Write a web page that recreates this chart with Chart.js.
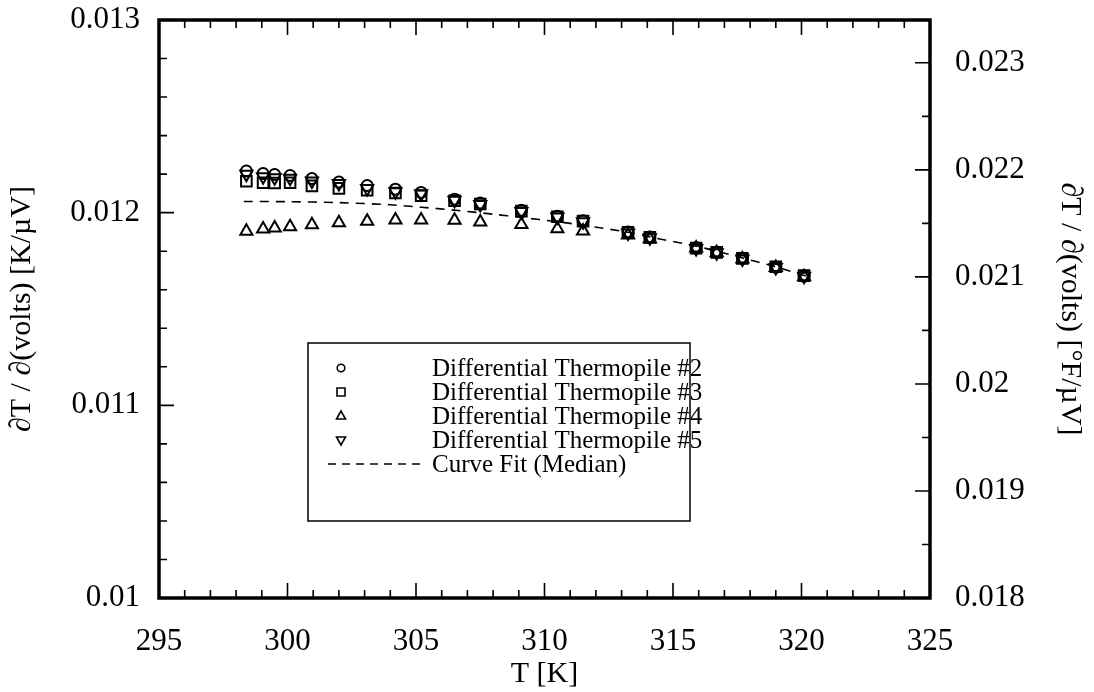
<!DOCTYPE html>
<html><head><meta charset="utf-8">
<script src="https://cdn.jsdelivr.net/npm/chart.js@4.4.1/dist/chart.umd.min.js"></script>
<style>html,body{margin:0;padding:0;background:#fff;overflow:hidden;}#wrap{width:1094px;height:692px;}</style>
</head><body><div id="wrap"><canvas id="c" width="1094" height="692"></canvas></div>
<script>
// ---- data ----
const temps = [298.4, 299.05, 299.5, 300.1, 300.95, 302.0, 303.1, 304.2, 305.2, 306.5, 307.5, 309.1, 310.5, 311.5, 313.25, 314.1, 315.9, 316.7, 317.7, 319.0, 320.1];
const tp2 = [0.012216, 0.012203, 0.012198, 0.012193, 0.012177, 0.012159, 0.012141, 0.012122, 0.012105, 0.012070, 0.012050, 0.012012, 0.011982, 0.011958, 0.011900, 0.011874, 0.011818, 0.011796, 0.011764, 0.011717, 0.011671];
const tp3 = [0.012163, 0.012155, 0.012154, 0.012155, 0.012139, 0.012126, 0.012116, 0.012102, 0.012088, 0.012062, 0.012045, 0.012008, 0.011979, 0.011956, 0.011898, 0.011872, 0.011816, 0.011794, 0.011763, 0.011719, 0.011673];
const tp4 = [0.011903, 0.011915, 0.011920, 0.011927, 0.011937, 0.011948, 0.011956, 0.011962, 0.011962, 0.011960, 0.011951, 0.011939, 0.011916, 0.011905, 0.011884, 0.011863, 0.011816, 0.011792, 0.011760, 0.011716, 0.011668];
const tp5 = [0.012200, 0.012186, 0.012181, 0.012179, 0.012165, 0.012152, 0.012126, 0.012108, 0.012098, 0.012064, 0.012043, 0.012006, 0.011977, 0.011953, 0.011895, 0.011870, 0.011814, 0.011792, 0.011760, 0.011715, 0.011670];
const fitT = [298.3, 300, 302, 304, 305.2, 306.5, 308, 309.1, 310.5, 311.5, 313.25, 314.1, 315.9, 316.7, 317.7, 319.0, 320.2];
const fitV = [0.012058, 0.012057, 0.012052, 0.012041, 0.012028, 0.012013, 0.011992, 0.011975, 0.011953, 0.011935, 0.011898, 0.011874, 0.011826, 0.011800, 0.011765, 0.011719, 0.011670];

const seriesNames = ['Differential Thermopile #2', 'Differential Thermopile #3', 'Differential Thermopile #4', 'Differential Thermopile #5', 'Curve Fit (Median)'];

const xTickValues = [295, 300, 305, 310, 315, 320, 325];
const xTickLabels = ['295', '300', '305', '310', '315', '320', '325'];
const yTickValues = [0.010, 0.011, 0.012, 0.013];
const yTickLabels = ['0.01', '0.011', '0.012', '0.013'];
const y2TickValues = [0.018, 0.019, 0.020, 0.021, 0.022, 0.023];
const y2TickLabels = ['0.018', '0.019', '0.02', '0.021', '0.022', '0.023'];

// ---- chart ----
const FONT = "'Liberation Serif', 'Times New Roman', serif";
const pts = (ys) => temps.map((t, i) => ({x: t, y: ys[i]}));

const frameTicks = {
  id: 'frameTicks',
  afterDatasetsDraw(chart) {
    const {ctx, chartArea: a, scales} = chart;
    ctx.save();
    ctx.strokeStyle = '#000';
    ctx.lineWidth = 1.6;
    const MAJ = 15, MIN = 8;
    const xs = scales.x, ys = scales.y, y2 = scales.y2;
    ctx.beginPath();
    for (let v = 295; v <= 325 + 1e-9; v += 1) {
      const px = xs.getPixelForValue(v);
      const L = (Math.round(v) % 5 === 0) ? MAJ : MIN;
      ctx.moveTo(px, a.bottom); ctx.lineTo(px, a.bottom - L);
      ctx.moveTo(px, a.top); ctx.lineTo(px, a.top + L);
    }
    for (let k = 0; k <= 15; k++) {
      const v = 0.010 + k * 0.0002;
      const py = ys.getPixelForValue(v);
      const L = (k % 5 === 0) ? MAJ : MIN;
      ctx.moveTo(a.left, py); ctx.lineTo(a.left + L, py);
    }
    for (let k = 0; k <= 10; k++) {
      const v = 0.018 + k * 0.0005;
      const py = y2.getPixelForValue(v);
      const L = (k % 2 === 0) ? MAJ : MIN;
      ctx.moveTo(a.right, py); ctx.lineTo(a.right - L, py);
    }
    ctx.stroke();
    ctx.lineWidth = 3.5;
    ctx.strokeRect(a.left, a.top, a.right - a.left, a.bottom - a.top);

    // legend box
    const bx = 308, by = 343, bw = 382, bh = 178;
    ctx.lineWidth = 1.5;
    ctx.strokeRect(bx, by, bw, bh);
    ctx.font = '25px ' + FONT;
    ctx.fillStyle = '#000';
    ctx.textBaseline = 'middle';
    ctx.textAlign = 'left';
    const mx = 341, tx = 432;
    for (let i = 0; i < 5; i++) {
      const yy = 368 + 24 * i;
      ctx.fillText(seriesNames[i], tx, yy + 1);
      ctx.beginPath();
      ctx.lineWidth = 1.6;
      if (i === 0) { ctx.arc(mx, yy, 3.8, 0, Math.PI * 2); }
      else if (i === 1) { ctx.rect(mx - 4, yy - 4, 8, 8); }
      else if (i === 2) { ctx.moveTo(mx, yy - 5); ctx.lineTo(mx + 4.5, yy + 3); ctx.lineTo(mx - 4.5, yy + 3); ctx.closePath(); }
      else if (i === 3) { ctx.moveTo(mx, yy + 5); ctx.lineTo(mx + 4.5, yy - 3); ctx.lineTo(mx - 4.5, yy - 3); ctx.closePath(); }
      else { ctx.setLineDash([8, 6]); ctx.moveTo(328, yy); ctx.lineTo(426, yy); }
      ctx.stroke();
      ctx.setLineDash([]);
    }
    ctx.restore();
  }
};

const noPadV = s => { s.paddingTop = 0; s.paddingBottom = 0; };
const common = {borderColor: '#000', backgroundColor: 'rgba(0,0,0,0)', borderWidth: 2, showLine: false};
new Chart(document.getElementById('c'), {
  type: 'scatter',
  data: {
    datasets: [
      Object.assign({label: seriesNames[0], data: pts(tp2), pointStyle: 'circle', pointRadius: 5.5}, common),
      Object.assign({label: seriesNames[1], data: pts(tp3), pointStyle: 'rect', pointRadius: 7.5}, common),
      Object.assign({label: seriesNames[2], data: pts(tp4), pointStyle: 'triangle', pointRadius: 7}, common),
      Object.assign({label: seriesNames[3], data: pts(tp5), pointStyle: 'triangle', pointRotation: 180, pointRadius: 7}, common),
      {label: seriesNames[4], data: fitT.map((t, i) => ({x: t, y: fitV[i]})), showLine: true, pointRadius: 0,
       borderColor: '#000', borderWidth: 1.6, borderDash: [9, 7], tension: 0.3, fill: false}
    ]
  },
  options: {
    responsive: false, animation: false, devicePixelRatio: 1,
    layout: {padding: {top: 20, left: 0, right: 0, bottom: 0}},
    plugins: {legend: {display: false}, tooltip: {enabled: false}},
    scales: {
      x: {
        type: 'linear', position: 'bottom', min: 295, max: 325,
        grid: {display: false, drawTicks: false, tickLength: 0}, border: {display: false},
        afterBuildTicks: s => { s.ticks = xTickValues.map(v => ({value: v})); },
        afterFit: s => { s.height = 94; s.paddingLeft = 0; s.paddingRight = 0; },
        ticks: {color: '#000', font: {family: FONT, size: 31}, padding: 25, maxRotation: 0,
                callback: (v, i) => xTickLabels[i]},
        title: {display: true, text: 'T [K]', color: '#000', font: {family: FONT, size: 30}, padding: {top: 0, bottom: 0}}
      },
      y: {
        type: 'linear', position: 'left', min: 0.010, max: 0.013,
        grid: {display: false, drawTicks: false, tickLength: 0}, border: {display: false},
        afterBuildTicks: s => { s.ticks = yTickValues.map(v => ({value: v})); },
        afterFit: s => { s.width = 159; noPadV(s); },
        ticks: {color: '#000', font: {family: FONT, size: 31}, padding: 19,
                callback: (v, i) => yTickLabels[i]},
        title: {display: true, text: '\u2202T / \u2202(volts) [K/\u00B5V]', color: '#000', font: {family: FONT, size: 30}, padding: {top: 4, bottom: 0}}
      },
      y2: {
        type: 'linear', position: 'right', min: 0.018, max: 0.0234,
        grid: {display: false, drawTicks: false, tickLength: 0}, border: {display: false},
        afterBuildTicks: s => { s.ticks = y2TickValues.map(v => ({value: v})); },
        afterFit: s => { s.width = 164; noPadV(s); },
        ticks: {color: '#000', font: {family: FONT, size: 31}, padding: 25,
                callback: (v, i) => y2TickLabels[i]},
        title: {display: true, text: '\u2202T / \u2202(volts) [\u00B0F/\u00B5V]', color: '#000', font: {family: FONT, size: 30}, padding: {top: 6, bottom: 0}}
      }
    }
  },
  plugins: [frameTicks]
});
</script></body></html>
